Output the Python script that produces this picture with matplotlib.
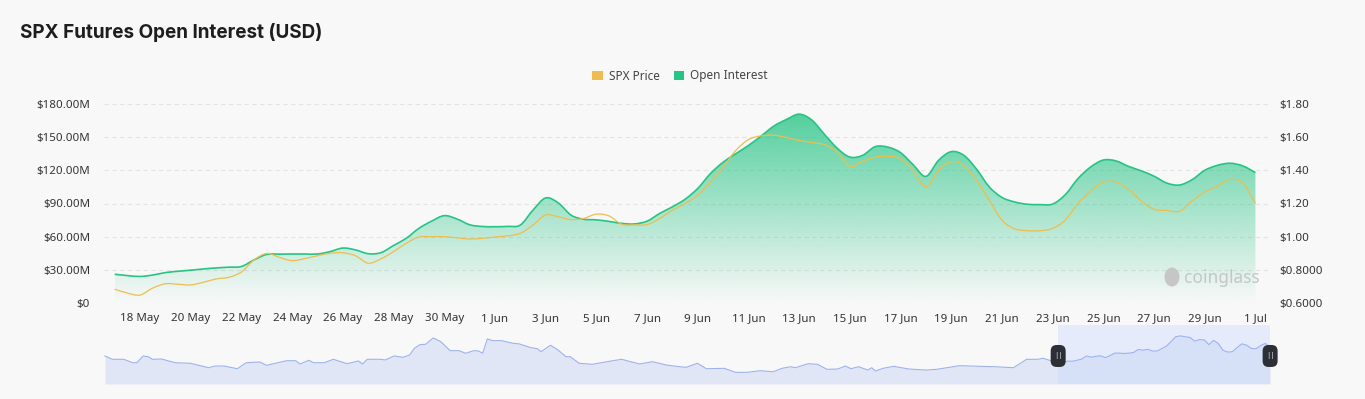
import matplotlib
matplotlib.use("Agg")
import matplotlib.pyplot as plt
import matplotlib.dates as mdates
from matplotlib.patches import Patch, PathPatch, Ellipse, FancyBboxPatch
from matplotlib.path import Path
from matplotlib.transforms import IdentityTransform
import numpy as np
import pandas as pd

# half-day samples, 17 May -> 1 Jul
start = "2025-05-17"
n_points = 91
# Open interest in millions USD
oi = [26, 24.8, 24.0, 25.3, 27.5, 28.7, 29.7, 30.8, 31.7, 32.4,
      33.0, 39, 44, 44.2, 44.3, 44.3, 44.3, 46.5, 49.7, 48,
      44.6, 45.5, 52, 58.5, 67.5, 74, 79, 76, 70.8, 69.2,
      69, 69.3, 70.5, 84, 95, 90.5, 79.5, 75.8, 75.2, 73.8,
      72, 71.5, 74, 81, 87, 93.8, 103.6, 117, 127.3, 135,
      142.5, 151, 160, 166, 170.8, 165.5, 152.5, 140, 132, 133.5,
      141.4, 141, 136, 125, 114.5, 129, 136.9, 133.5, 121, 105,
      95.5, 91.4, 89.3, 89, 89.5, 98, 112.5, 123, 129.3, 128.5,
      123.5, 119.5, 114.7, 108.5, 106.7, 111.5, 120, 124.5, 126.4, 124,
      118]
# SPX price in USD
price = [0.683, 0.660, 0.648, 0.69, 0.716, 0.713, 0.709, 0.725, 0.745, 0.755,
         0.787, 0.86, 0.899, 0.875, 0.855, 0.868, 0.885, 0.9, 0.903, 0.885,
         0.84, 0.866, 0.91, 0.96, 0.998, 1.0, 1.0, 0.993, 0.986, 0.99,
         0.998, 1.005, 1.02, 1.07, 1.131, 1.12, 1.103, 1.11, 1.136, 1.125,
         1.075, 1.071, 1.073, 1.11, 1.16, 1.2, 1.25, 1.33, 1.42, 1.52,
         1.585, 1.608, 1.612, 1.598, 1.58, 1.568, 1.555, 1.51, 1.425, 1.455,
         1.48, 1.485, 1.47, 1.4, 1.3, 1.4, 1.452, 1.43, 1.34, 1.22,
         1.1, 1.047, 1.036, 1.036, 1.05, 1.1, 1.2, 1.275, 1.329, 1.33,
         1.285, 1.215, 1.165, 1.158, 1.153, 1.215, 1.27, 1.305, 1.345, 1.325,
         1.20]

# navigator history before the zoomed window (days relative to 17 May, price)
nav_days = [-202.4, -200.8, -198.4, -196.5, -195.6, -194.3, -193.2, -192.3, -190.4, -187.5,
            -184.2, -180.4, -179, -177.1, -174.3, -172.4, -169.5, -168.1, -163.8, -161.9,
            -161, -159.1, -158.1, -155.8, -153.9, -151, -148.6, -147.7, -146.7, -143.9,
            -142.9, -141, -139.1, -137.7, -136.7, -135.5, -134.3, -132.7, -131.1, -129.1,
            -127.2, -125.8, -124.1, -123.1, -122.2, -121.2, -120.1, -118.2, -115.8, -114.4,
            -112, -110.6, -109.8, -107.8, -106.4, -104.5, -103.6, -101.7, -98.9, -94.6,
            -92.7, -88.9, -86.1, -83.2, -80.4, -79, -76.6, -74.7, -70.9, -68.5,
            -66.1, -63.3, -60.5, -58.6, -56.8, -55.8, -53.1, -51.1, -49.1, -46.8,
            -45.2, -44, -42.4, -40.4, -39.6, -38.8, -37.2, -34.9, -31.7, -28.1,
            -25.8, -21, -16.2, -13.5, -9.5, -6.7, -4.4, -3.2, -0.4]
nav_price = [0.897, 0.779, 0.779, 0.658, 0.658, 0.897, 0.872, 0.779, 0.79, 0.658,
             0.637, 0.48, 0.54, 0.54, 0.444, 0.658, 0.683, 0.565, 0.729, 0.729,
             0.612, 0.744, 0.658, 0.658, 0.779, 0.622, 0.719, 0.612, 0.779, 0.779,
             0.754, 0.897, 0.851, 0.933, 1.172, 1.3, 1.315, 1.54, 1.408, 1.086,
             1.086, 0.994, 1.086, 1.076, 0.994, 1.504, 1.443, 1.443, 1.35, 1.326,
             1.194, 1.158, 1.051, 1.279, 1.136, 0.872, 0.872, 0.637, 0.601, 0.729,
             0.779, 0.612, 0.694, 0.576, 0.515, 0.494, 0.637, 0.444, 0.458, 0.315,
             0.315, 0.372, 0.337, 0.458, 0.515, 0.48, 0.622, 0.601, 0.422, 0.433,
             0.54, 0.444, 0.515, 0.397, 0.48, 0.362, 0.458, 0.529, 0.433, 0.397,
             0.422, 0.551, 0.529, 0.515, 0.48, 0.779, 0.779, 0.815, 0.672]

left_ticks = [0, 30, 60, 90, 120, 150, 180]
left_labels = ["$0", "$30.00M", "$60.00M", "$90.00M", "$120.00M", "$150.00M", "$180.00M"]
right_ticks = [0.6, 0.8, 1.0, 1.2, 1.4, 1.6, 1.8]
right_labels = ["$0.6000", "$0.8000", "$1.00", "$1.20", "$1.40", "$1.60", "$1.80"]
x_labels = ["18 May", "20 May", "22 May", "24 May", "26 May", "28 May", "30 May",
            "1 Jun", "3 Jun", "5 Jun", "7 Jun", "9 Jun", "11 Jun", "13 Jun", "15 Jun",
            "17 Jun", "19 Jun", "21 Jun", "23 Jun", "25 Jun", "27 Jun", "29 Jun", "1 Jul"]

GREEN = "#26C485"
GOLD = "#EDBE4F"
BG = "#F8F8F8"
TXT = "#333333"

plt.rcParams['font.family'] = ['Noto Sans', 'DejaVu Sans']


def smooth_verts(x, y):
    # catmull-rom style bezier through the points (like a "smooth" line)
    pts = np.column_stack([x, y])
    p = np.vstack([pts[0], pts, pts[-1]])
    verts = [pts[0]]
    codes = [Path.MOVETO]
    for i in range(len(pts) - 1):
        p0, p1, p2, p3 = p[i], p[i + 1], p[i + 2], p[i + 3]
        verts += [p1 + (p2 - p0) / 6, p2 - (p3 - p1) / 6, p2]
        codes += [Path.CURVE4] * 3
    return verts, codes


dates = pd.date_range(start, periods=n_points, freq="12h")
xnum = mdates.date2num(dates)
t0 = mdates.date2num(pd.Timestamp(start))
oi = np.array(oi)
price = np.array(price)

fig = plt.figure(figsize=(13.65, 3.99), dpi=100, facecolor=BG)
ax = fig.add_axes([104 / 1365, 96 / 399, 1166 / 1365, 199 / 399])
ax.set_facecolor(BG)

# grid
for v in left_ticks:
    ax.axhline(v, color="#E4E4E4", lw=0.8, ls=(0, (4, 3)), zorder=0)

# gradient filled area for OI
v, c = smooth_verts(xnum, oi)
area = Path(v + [(xnum[-1], 0), (xnum[0], 0), (xnum[0], 0)],
            c + [Path.LINETO, Path.LINETO, Path.CLOSEPOLY])
area_patch = PathPatch(area, fc="none", ec="none", transform=ax.transData)
ax.add_patch(area_patch)
rgba = np.zeros((256, 1, 4))
rgba[..., :3] = matplotlib.colors.to_rgb(GREEN)
rgba[:, 0, 3] = np.linspace(0.78, 0.0, 256)
im = ax.imshow(rgba, extent=[xnum[0], xnum[-1], 0, oi.max()], aspect="auto",
               origin="upper", zorder=1, interpolation="bilinear")
im.set_clip_path(area_patch)
ax.add_patch(PathPatch(Path(v, c), fill=False, ec=GREEN, lw=1.2, zorder=2))

ax.set_xlim(t0 - 0.422, t0 + 45.575)
ax.set_ylim(0, 180)
ax.set_yticks(left_ticks)
ax.set_yticklabels(left_labels)
tick_dates = mdates.date2num(pd.date_range("2025-05-18", periods=len(x_labels), freq="2D"))
ax.set_xticks(tick_dates)
ax.set_xticklabels(x_labels)
ax.tick_params(length=0, labelsize=8.3, colors=TXT, pad=7)
ax.tick_params(axis="y", pad=10)
for s in ax.spines.values():
    s.set_visible(False)

ax2 = ax.twinx()
pv, pc = smooth_verts(xnum, price)
ax2.add_patch(PathPatch(Path(pv, pc), fill=False, ec=GOLD, lw=0.9, zorder=3))
ax2.set_ylim(0.6, 1.8)
ax2.set_yticks(right_ticks)
ax2.set_yticklabels(right_labels)
ax2.tick_params(length=0, labelsize=8.3, colors=TXT, pad=7)
for s in ax2.spines.values():
    s.set_visible(False)

# watermark
ax.text(0.991, 0.128, "coinglass", transform=ax.transAxes, ha="right", va="center",
        fontsize=12.5, fontweight="bold", color="#C6C6C6", zorder=4)
fig.add_artist(Ellipse((1172 / 1365, 1 - 277 / 399), 15 / 1365, 19 / 399,
                       transform=fig.transFigure, fc="#C6C6C6", ec="none"))

# title and legend
fig.text(20 / 1365, 1 - 32 / 399, "SPX Futures Open Interest (USD)", fontsize=13.6,
         fontweight="bold", family=["Inter", "DejaVu Sans"], color="#1E1E1E",
         va="center", ha="left")
handles = [Patch(facecolor=GOLD, edgecolor="none", label="SPX Price"),
           Patch(facecolor=GREEN, edgecolor="none", label="Open Interest")]
fig.legend(handles=handles, loc="center", bbox_to_anchor=(680 / 1365, 1 - 76 / 399),
           ncol=2, frameon=False, fontsize=8.5, handlelength=0.9, handleheight=0.9,
           handletextpad=0.5, columnspacing=1.2, labelcolor="#444444")

# navigator
axn = fig.add_axes([104 / 1365, 15 / 399, 1168 / 1365, 59 / 399])
axn.set_facecolor(BG)
nx = np.concatenate([t0 + np.array(nav_days), xnum[::2]])
ny = np.concatenate([nav_price, price[::2]])
axn.axvspan(t0, t0 + 45, color="#E5EBFB", lw=0, zorder=0)
axn.fill_between(nx, ny, -0.1, color="#C9D6F3", alpha=0.5, lw=0, zorder=1)
axn.plot(nx, ny, color="#9DB3EC", lw=0.8, zorder=2)
axn.set_xlim(t0 - 202.6, t0 + 45.4)
axn.set_ylim(-0.1, 2.0)
axn.set_xticks([])
axn.set_yticks([])
for s in axn.spines.values():
    s.set_visible(False)

# slider handles (pixel sized, placed at the window edges)
for hx in [t0, t0 + 45]:
    px = axn.transData.transform((hx, 0))[0]
    py = axn.transAxes.transform((0, 0.475))[1]
    fig.add_artist(FancyBboxPatch((px - 7.5, py - 11), 15, 22,
                                  boxstyle="round,pad=0,rounding_size=6",
                                  transform=IdentityTransform(), fc="#2C3036", ec="none",
                                  zorder=5))
    fig.text(px / 1365, py / 399, "||", ha="center", va="center", color="white",
             fontsize=5.5, zorder=6)

fig.savefig("out.png", dpi=100, facecolor=BG)
